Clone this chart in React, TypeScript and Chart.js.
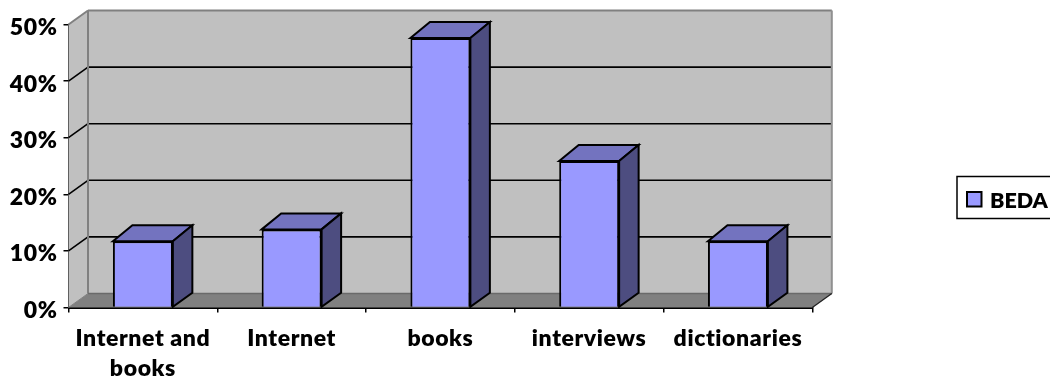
import React, { useEffect, useRef } from "react";
import { Chart, registerables } from "chart.js";

Chart.register(...registerables);

const categories = [["Internet and", "books"], "Internet", "books", "interviews", "dictionaries"];
const seriesName = "BEDA";
const seriesValues = [0.117, 0.138, 0.476, 0.259, 0.117];
const FONT = "Lato";
const WEIGHT = 800;

const DX = 19.5;
const DY = 14;
const BAR_COLOR = "#9999FF";
const TOP_COLOR = "#7373BF";
const SIDE_COLOR = "#4D4D80";

const threeD = {
  id: "threeD",
  beforeDraw(chart: any) {
    chart.ctx.letterSpacing = "0.6px";
  },
  beforeDatasetsDraw(chart: any) {
    const { ctx, chartArea: a, scales } = chart;
    const y = scales.y;
    const poly = (pts: number[][], fill: string | null, stroke: string | null, lw = 1) => {
      ctx.beginPath();
      pts.forEach((p, i) => (i ? ctx.lineTo(p[0], p[1]) : ctx.moveTo(p[0], p[1])));
      ctx.closePath();
      if (fill) { ctx.fillStyle = fill; ctx.fill(); }
      if (stroke) { ctx.strokeStyle = stroke; ctx.lineWidth = lw; ctx.stroke(); }
    };
    const line = (x1: number, y1: number, x2: number, y2: number, c: string, lw: number) => {
      ctx.beginPath(); ctx.moveTo(x1, y1); ctx.lineTo(x2, y2);
      ctx.strokeStyle = c; ctx.lineWidth = lw; ctx.stroke();
    };
    ctx.save();
    // back wall and left wall
    poly([[a.left + DX, a.top - DY], [a.right + DX, a.top - DY], [a.right + DX, a.bottom - DY], [a.left + DX, a.bottom - DY]], "#C0C0C0", null);
    poly([[a.left, a.top], [a.left + DX, a.top - DY], [a.left + DX, a.bottom - DY], [a.left, a.bottom]], "#C0C0C0", null);
    // floor
    poly([[a.left, a.bottom], [a.left + DX, a.bottom - DY], [a.right + DX, a.bottom - DY], [a.right, a.bottom]], "#808080", null);
    // gridlines
    y.ticks.forEach((t: any) => {
      if (t.value === 0 || t.value >= 0.5) return;
      const py = y.getPixelForValue(t.value);
      line(a.left, py, a.left + DX, py - DY, "#000", 1.6);
      line(a.left + DX, py - DY, a.right + DX, py - DY, "#000", 1.6);
    });
    // wall edges
    line(a.left, a.top, a.left + DX, a.top - DY, "#808080", 2);
    line(a.left + DX, a.top - DY, a.right + DX, a.top - DY, "#808080", 2);
    line(a.left + DX, a.top - DY, a.left + DX, a.bottom - DY, "#808080", 2);
    line(a.right + DX, a.top - DY, a.right + DX, a.bottom - DY, "#909090", 2);
    line(a.left + DX, a.bottom - DY, a.right + DX, a.bottom - DY, "#6A6A6A", 1.5);
    line(a.left, a.bottom, a.left + DX, a.bottom - DY, "#808080", 1);
    line(a.right, a.bottom, a.right + DX, a.bottom - DY, "#222", 1.3);
    // bar tops and sides
    chart.getDatasetMeta(0).data.forEach((b: any) => {
      const l = b.x - b.width / 2, r = b.x + b.width / 2;
      poly([[l, b.y], [l + DX, b.y - DY - 2], [r + DX, b.y - DY - 2], [r, b.y]], TOP_COLOR, "#000", 2);
      poly([[r, b.y], [r + DX, b.y - DY - 2], [r + DX, b.base - DY], [r, b.base]], SIDE_COLOR, "#000", 2);
    });
    ctx.restore();
  },
  afterDraw(chart: any) {
    const { ctx } = chart;
    const ds = chart.data.datasets[0];
    ctx.save();
    ctx.letterSpacing = "0px";
    ctx.strokeStyle = "#000"; ctx.lineWidth = 1.5;
    ctx.strokeRect(957, 176.5, 110, 42);
    ctx.fillStyle = BAR_COLOR; ctx.lineWidth = 2;
    ctx.fillRect(967, 192, 14.5, 14.5);
    ctx.strokeRect(967, 192, 14.5, 14.5);
    ctx.fillStyle = "#000";
    ctx.font = `${WEIGHT} 21.5px ${FONT}`;
    ctx.textBaseline = "middle";
    ctx.textAlign = "left";
    ctx.fillText(ds.label, 990, 201);
    ctx.restore();
  },
};

export default function App() {
  const ref = useRef<HTMLCanvasElement>(null);
  useEffect(() => {
    document.body.style.margin = "0";
    const chart = new Chart(ref.current!, {
      type: "bar",
      data: {
        labels: categories,
        datasets: [{
          label: seriesName,
          data: seriesValues,
          backgroundColor: BAR_COLOR,
          borderColor: "#000",
          borderWidth: 2,
          barPercentage: 0.403,
          categoryPercentage: 1,
        }],
      },
      options: {
        animation: false,
        responsive: false,
        layout: { padding: { top: 24.5, right: 237.7, left: 0, bottom: 0 } },
        plugins: { legend: { display: false }, title: { display: false }, tooltip: { enabled: false } },
        scales: {
          x: {
            grid: { drawOnChartArea: false, drawTicks: true, tickLength: 5, color: "#000", offset: true, lineWidth: 1.5 },
            border: { display: true, color: "#000", width: 2 },
            ticks: { color: "#000", font: { family: FONT, weight: WEIGHT, size: 23, lineHeight: 1.3 }, padding: 11, maxRotation: 0, autoSkip: false },
            afterFit: (s: any) => { s.height = 77.5; },
          },
          y: {
            min: 0,
            max: 0.5,
            grid: { drawOnChartArea: false, drawTicks: true, tickLength: 5, color: "#000", lineWidth: 1.5 },
            border: { display: true, color: "#000", width: 2 },
            ticks: {
              stepSize: 0.1,
              color: "#000",
              labelOffset: 3,
              font: { family: FONT, weight: WEIGHT, size: 23 },
              padding: 6,
              callback: (v: any) => `${Math.round(Number(v) * 100)}%`,
            },
            afterFit: (s: any) => { s.width = 68.5; },
          },
        },
      } as any,
      plugins: [threeD],
    });
    return () => chart.destroy();
  }, []);
  return <canvas ref={ref} width={1050} height={385} style={{ display: "block" }} />;
}
